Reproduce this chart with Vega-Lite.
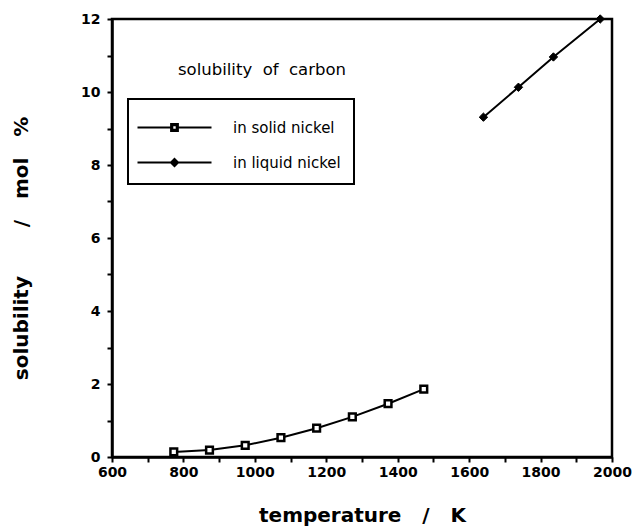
{
  "$schema": "https://vega.github.io/schema/vega-lite/v6.json",
  "autosize": {"type": "none"},
  "width": 500,
  "height": 438,
  "padding": {"left": 112, "top": 19, "right": 24, "bottom": 70},
  "background": "white",
  "config": {
    "view": {"stroke": "black", "strokeWidth": 2.5},
    "legend": {"strokeWidth": 2},
    "axis": {
      "grid": false,
      "domainColor": "black",
      "domainWidth": 2.5,
      "tickColor": "black",
      "tickWidth": 2,
      "tickSize": 5,
      "labelFont": "DejaVu Sans",
      "labelFontWeight": "bold",
      "labelFontSize": 14,
      "labelColor": "black",
      "titleFont": "DejaVu Sans",
      "titleFontWeight": "bold",
      "titleFontSize": 20,
      "titleColor": "black"
    }
  },
  "data": {
    "values": [
      {"series": "in solid nickel", "temperature": 773, "solubility": 0.14},
      {"series": "in solid nickel", "temperature": 873, "solubility": 0.19},
      {"series": "in solid nickel", "temperature": 973, "solubility": 0.32},
      {"series": "in solid nickel", "temperature": 1073, "solubility": 0.53},
      {"series": "in solid nickel", "temperature": 1173, "solubility": 0.79},
      {"series": "in solid nickel", "temperature": 1273, "solubility": 1.10},
      {"series": "in solid nickel", "temperature": 1373, "solubility": 1.46},
      {"series": "in solid nickel", "temperature": 1473, "solubility": 1.86},
      {"series": "in liquid nickel", "temperature": 1640, "solubility": 9.31},
      {"series": "in liquid nickel", "temperature": 1738, "solubility": 10.13},
      {"series": "in liquid nickel", "temperature": 1836, "solubility": 10.96},
      {"series": "in liquid nickel", "temperature": 1967, "solubility": 12.0}
    ]
  },
  "encoding": {
    "x": {
      "field": "temperature",
      "type": "quantitative",
      "scale": {"domain": [600, 2000], "nice": false, "zero": false},
      "axis": {
        "title": "temperature\u00a0\u00a0\u00a0/\u00a0\u00a0\u00a0K",
        "values": [600, 700, 800, 900, 1000, 1100, 1200, 1300, 1400, 1500, 1600, 1700, 1800, 1900, 2000],
        "format": "d",
        "labelExpr": "datum.value % 200 == 0 ? datum.label : ''",
        "labelPadding": 3,
        "labelFlush": false,
        "labelOverlap": false,
        "titlePadding": 26
      }
    },
    "y": {
      "field": "solubility",
      "type": "quantitative",
      "scale": {"domain": [0, 12], "nice": false},
      "axis": {
        "title": "solubility\u00a0\u00a0\u00a0\u00a0\u00a0\u00a0\u00a0/\u00a0\u00a0\u00a0mol\u00a0\u00a0\u00a0%",
        "values": [0, 1, 2, 3, 4, 5, 6, 7, 8, 9, 10, 11, 12],
        "format": "d",
        "labelExpr": "datum.value % 2 == 0 ? datum.label : ''",
        "labelPadding": 7,
        "labelFlush": false,
        "labelOverlap": false,
        "titlePadding": 49,
        "titleY": 229
      }
    }
  },
  "layer": [
    {
      "mark": {"type": "line", "color": "black", "strokeWidth": 2},
      "encoding": {"detail": {"field": "series"}}
    },
    {
      "transform": [{"filter": "datum.series == 'in solid nickel'"}],
      "mark": {"type": "point", "shape": "square", "filled": true, "fill": "white", "stroke": "black", "strokeWidth": 2.5, "size": 45, "opacity": 1}
    },
    {
      "transform": [{"filter": "datum.series == 'in liquid nickel'"}],
      "mark": {"type": "point", "shape": "diamond", "filled": true, "fill": "black", "stroke": "black", "strokeWidth": 1, "size": 70, "opacity": 1}
    },
    {
      "transform": [{"filter": "datum.temperature < 0"}],
      "mark": {"type": "point", "filled": true, "fill": "black", "strokeWidth": 0, "opacity": 1},
      "encoding": {
        "shape": {
          "field": "series",
          "type": "nominal",
          "scale": {
            "domain": ["in solid nickel", "in liquid nickel"],
            "range": [
              "M-9.25,-0.27H-1V0.27H-9.25ZM1,-0.27H9.25V0.27H1ZM-1.1,-1.1H1.1V1.1H-1.1ZM-0.3,-0.3V0.3H0.3V-0.3Z",
              "M-9.25,-0.27H9.25V0.27H-9.25ZM0,-1.25L1.25,0L0,1.25L-1.25,0Z"
            ]
          },
          "legend": {
            "title": "\u00a0",
            "titleFontSize": 1,
            "titlePadding": 7,
            "orient": "none",
            "legendX": 16,
            "legendY": 80,
            "padding": 13,
            "strokeColor": "black",
            "fillColor": "white",
            "symbolSize": 64,
            "symbolOffset": 26,
            "symbolOpacity": 1,
            "symbolFillColor": "black",
            "symbolStrokeWidth": 0,
            "labelFont": "DejaVu Sans",
            "labelFontSize": 15,
            "labelColor": "black",
            "labelOffset": 51,
            "labelExpr": "datum.label + '\u00a0\u00a0\u00a0\u00a0\u00a0'",
            "rowPadding": 19
          }
        }
      }
    },
    {
      "transform": [{"filter": "datum.temperature == 773"}],
      "mark": {"type": "text", "font": "DejaVu Sans", "fontSize": 16.5, "color": "black", "align": "center", "baseline": "middle"},
      "encoding": {
        "x": {"datum": 1020},
        "y": {"datum": 10.6},
        "text": {"value": "solubility\u00a0\u00a0of\u00a0\u00a0carbon"}
      }
    }
  ]
}
